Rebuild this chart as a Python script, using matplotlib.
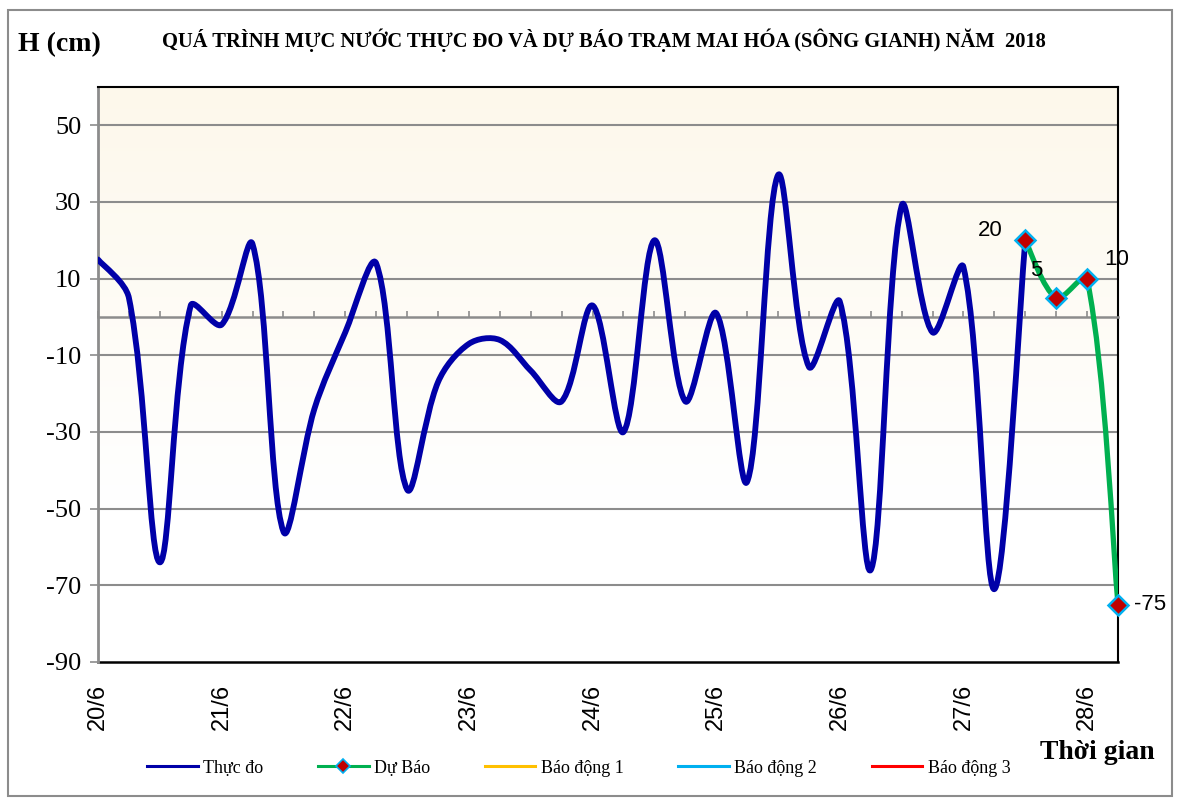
import numpy as np
import matplotlib
matplotlib.use('Agg')
import matplotlib.pyplot as plt
from matplotlib.path import Path
from matplotlib.patches import PathPatch, Rectangle
from matplotlib.lines import Line2D

# Muc nuoc thuc do, 6 gio mot diem, tu 20/6 0h (cm)
h_thuc_do = [15, 5, -64, 3, -2, 19, -56, -24, -4, 14,
             -45, -17, -7, -6, -14, -22, 3, -30, 20, -22,
             1, -43, 37, -13, 4, -66, 29, -4, 13, -71, 20]
# Du bao: tiep noi tu diem cuoi cua thuc do
h_du_bao = [20, 5, 10, -75]
ngay = ['20/6', '21/6', '22/6', '23/6', '24/6', '25/6', '26/6', '27/6', '28/6']
muc_y = [-90, -70, -50, -30, -10, 10, 30, 50]

SERIF = 'Liberation Serif'
SANS = 'Liberation Sans'


def duong_cong(x, y, sx, sy):
    # duong tron kieu Excel: Bezier bac 3, tay do theo do dai doan tren man hinh
    x = np.asarray(x, float)
    y = np.asarray(y, float)
    n = len(x)
    d = np.hypot(np.diff(x) * sx, np.diff(y) * sy)
    tx = np.empty(n)
    ty = np.empty(n)
    tx[1:-1] = x[2:] - x[:-2]
    ty[1:-1] = y[2:] - y[:-2]
    tx[0], ty[0] = x[1] - x[0], y[1] - y[0]
    tx[-1], ty[-1] = x[-1] - x[-2], y[-1] - y[-2]

    def he_so(i, ra):
        if i == 0 or i == n - 1:
            return 1 / 6
        dp, dn = d[i - 1], d[i]
        return (dn if ra else dp) / (dp + dn) / 3

    verts = [(x[0], y[0])]
    codes = [Path.MOVETO]
    for i in range(n - 1):
        k1 = he_so(i, True)
        k2 = he_so(i + 1, False)
        c1 = (x[i] + tx[i] * k1, y[i] + ty[i] * k1)
        c2 = (x[i + 1] - tx[i + 1] * k2, y[i + 1] - ty[i + 1] * k2)
        verts += [c1, c2, (x[i + 1], y[i + 1])]
        codes += [Path.CURVE4] * 3
    return Path(verts, codes)


fig = plt.figure(figsize=(11.79, 8.01), dpi=100)
ax_rect = [98 / 1179, 1 - 662 / 801, 1020 / 1179, 575 / 801]
ax = fig.add_axes(ax_rect)

x_td = list(range(len(h_thuc_do)))
x_db = list(range(len(h_thuc_do) - 1, len(h_thuc_do) - 1 + len(h_du_bao)))
n_x = x_db[-1]

ax.set_xlim(0, n_x)
ax.set_ylim(-90, 60)
sx = ax_rect[2] * 1179 / n_x
sy = ax_rect[3] * 801 / 150

# nen vang nhat phia tren
grad = np.linspace(0, 1, 256).reshape(-1, 1)
cmap = matplotlib.colors.LinearSegmentedColormap.from_list(
    'nen', [(0, '#ffffff'), (0.27, '#ffffff'), (1, '#fdf8eb')])
ax.imshow(grad, extent=[0, 1, 0, 1], transform=ax.transAxes, origin='lower',
          cmap=cmap, aspect='auto', zorder=0)

for y in muc_y[1:]:
    ax.axhline(y, color='#8c8c8c', lw=1.5, zorder=1)

# truc x tai muc 0
ax.spines['bottom'].set_position(('data', 0))
ax.spines['bottom'].set_color('#8c8c8c')
ax.spines['bottom'].set_linewidth(1.8)
ax.set_xticks(range(0, n_x + 1))
ax.tick_params(axis='x', direction='in', length=4, width=1.2, color='#8c8c8c',
               labelbottom=False)

ax.spines['left'].set_color('#8c8c8c')
ax.spines['left'].set_linewidth(2)
ax.spines['top'].set_linewidth(1.5)
ax.spines['right'].set_linewidth(1.5)
ax.set_yticks(muc_y)
ax.set_yticklabels([str(v) for v in muc_y], fontfamily=SERIF, fontsize=19)
ax.tick_params(axis='y', direction='out', length=6, width=1.2, color='#8c8c8c', pad=6)

sec = ax.secondary_xaxis('bottom')
sec.set_xticks(range(0, n_x + 1, 4))
sec.set_xticklabels(ngay, rotation=90, fontfamily=SANS, fontsize=17)
sec.tick_params(axis='x', length=0, pad=16)
sec.spines['bottom'].set_linewidth(1.8)
sec.spines['bottom'].set_color('black')

mau_td = '#0000a8'
mau_db = '#00b050'
ax.add_patch(PathPatch(duong_cong(x_td, h_thuc_do, sx, sy), fill=False, ec=mau_td, lw=4.2,
                       capstyle='round', joinstyle='round', zorder=3))
ax.add_patch(PathPatch(duong_cong(x_db, h_du_bao, sx, sy), fill=False, ec=mau_db, lw=3.8,
                       capstyle='round', joinstyle='round', zorder=4))
ax.plot(x_db, h_du_bao, linestyle='none', marker='D', markersize=10,
        markerfacecolor='#c00000', markeredgecolor='#00b0f0', markeredgewidth=1.8,
        zorder=5, clip_on=False)

nhan_offset = [(-25, 7), (-14, 20), (21, 14), (23, 0)]
for xi, yi, off in zip(x_db, h_du_bao, nhan_offset):
    ax.annotate(str(yi), (xi, yi), xytext=off, textcoords='offset points',
                ha='center', va='center', fontfamily=SANS, fontsize=16, zorder=6)

fig.text(0.512, 0.95, 'QUÁ TRÌNH MỰC NƯỚC THỰC ĐO VÀ DỰ BÁO TRẠM MAI HÓA (SÔNG GIANH) NĂM  2018',
         ha='center', va='center', fontfamily=SERIF, fontweight='bold', fontsize=14.8)
fig.text(0.015, 0.944, 'H (cm)', ha='left', va='center', fontfamily=SERIF,
         fontweight='bold', fontsize=20)
fig.text(0.882, 0.061, 'Thời gian', ha='left', va='center', fontfamily=SERIF,
         fontweight='bold', fontsize=20)

handles = [
    Line2D([], [], color=mau_td, lw=2.2),
    Line2D([], [], color=mau_db, lw=2.2, marker='D', markersize=7,
           markerfacecolor='#c00000', markeredgecolor='#00b0f0', markeredgewidth=1.2),
    Line2D([], [], color='#ffc000', lw=2.2),
    Line2D([], [], color='#00b0f0', lw=2.2),
    Line2D([], [], color='#ff0000', lw=2.2),
]
labels = ['Thực đo', 'Dự Báo', 'Báo động 1', 'Báo động 2', 'Báo động 3']
fig.legend(handles, labels, loc='center', bbox_to_anchor=(0.491, 0.041), ncol=5,
           frameon=False, prop={'family': SERIF, 'size': 13}, handlelength=2.8,
           handletextpad=0.3, columnspacing=3.03)

fig.patches.append(Rectangle((0.007, 0.006), 0.987, 0.982, transform=fig.transFigure,
                             fill=False, ec='#8c8c8c', lw=1.5))

fig.savefig('out.png', dpi=100)
